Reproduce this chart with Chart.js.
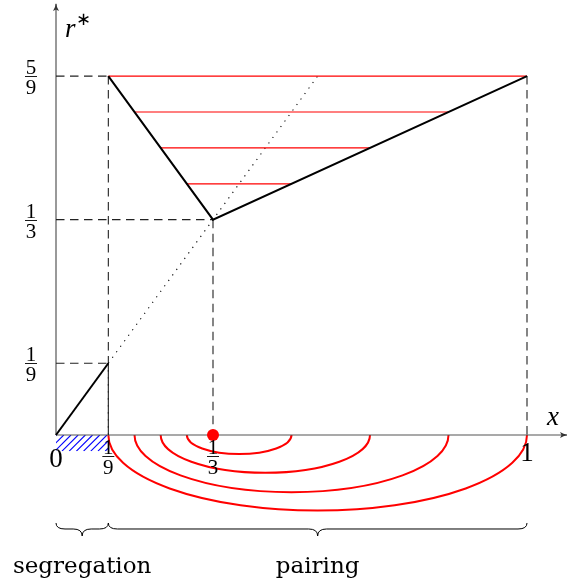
<!DOCTYPE html>
<html><head><meta charset="utf-8">
<script src="https://cdn.jsdelivr.net/npm/chart.js@4.4.0/dist/chart.umd.min.js"></script>
<style>html,body{margin:0;padding:0;background:#fff;overflow:hidden}#wrap{width:567px;height:584px;position:relative}</style>
</head><body><div id="wrap"><canvas id="c" width="567" height="584"></canvas></div>
<script>
// ---- data ----
const xTicks = [0, 1/9, 1/3, 1];
const xTickLabels = ['0', '1/9', '1/3', '1'];
const yTicks = [1/9, 1/3, 5/9];
const yTickLabels = ['1/9', '1/3', '5/9'];
const segregationPath = [[0, 0], [1/9, 1/9]];
const pairingPath = [[1/9, 5/9], [1/3, 1/3], [1, 5/9]];
const diagonalPath = [[1/9, 1/9], [5/9, 5/9]];
const guidePoints = [[1/9, 5/9], [1/3, 1/3], [1/9, 1/9], [1, 5/9]];
const guideHorizontal = [true, true, true, false];
const levels = [5/9, 1/2, 4/9, 7/18];
const levelLeft = [1/9, 1/6, 2/9, 5/18];
const levelRight = [1, 5/6, 2/3, 1/2];
const arcDepth = [0.117, 0.0885, 0.0585, 0.0295];
const fixedPoint = [1/3, 0];
const hatchRange = [0, 1/9];
const hatchDepth = 0.025;
const braceRanges = [[0, 1/9], [1/9, 1]];
const braceLabels = ['segregation', 'pairing'];
const braceLevel = -0.1455;
const xAxisEnd = 1.085;
const yAxisEnd = 0.667;

// ---- scale window ----
const XMIN = -56/471, XMAX = XMIN + 567/471;
const YMAX = 435/646, YMIN = YMAX - 584/646;

const pts = a => a.map(p => ({x: p[0], y: p[1]}));
const datasets = [];
// dashed guides
guidePoints.forEach((p, i) => {
  datasets.push({data: pts([[p[0], p[1]], [p[0], 0]]), borderColor: '#222', borderWidth: 1.1, borderDash: [8.5, 5.5], order: 10});
  if (guideHorizontal[i]) datasets.push({data: pts([[0, p[1]], [p[0], p[1]]]), borderColor: '#222', borderWidth: 1.1, borderDash: [8.5, 5.5], order: 10});
});
// dotted diagonal
datasets.push({data: pts(diagonalPath), borderColor: '#000', borderWidth: 1.1, borderDash: [1.2, 5.6], order: 9});
// red level lines
levels.forEach((v, i) => {
  datasets.push({data: pts([[levelLeft[i], v], [levelRight[i], v]]), borderColor: '#ff0000', borderWidth: 1.2, order: 8});
});
// black paths
datasets.push({data: pts(segregationPath), borderColor: '#000', borderWidth: 2, order: 5});
datasets.push({data: pts(pairingPath), borderColor: '#000', borderWidth: 2, order: 5, borderJoinStyle: 'miter'});
// fixed point
datasets.push({data: pts([fixedPoint]), showLine: false, pointRadius: 6, pointBackgroundColor: '#ff0000', pointBorderWidth: 0, order: 1});

const deco = {
  id: 'deco',
  beforeDatasetsDraw(chart) {
    const ctx = chart.ctx, X = chart.scales.x, Y = chart.scales.y;
    const px = v => X.getPixelForValue(v), py = v => Y.getPixelForValue(v);
    ctx.save();
    // hatch
    const hx0 = px(hatchRange[0]), hx1 = px(hatchRange[1]), hy0 = py(0), hy1 = py(-hatchDepth);
    ctx.save();
    ctx.beginPath(); ctx.rect(hx0, hy0, hx1 - hx0, hy1 - hy0); ctx.clip();
    ctx.strokeStyle = '#0000ff'; ctx.lineWidth = 1.1;
    for (let s = hx0 - 30; s < hx1 + 30; s += 7.2) {
      ctx.beginPath(); ctx.moveTo(s, hy1); ctx.lineTo(s + (hy1 - hy0), hy0); ctx.stroke();
    }
    ctx.restore();
    // red arcs
    ctx.strokeStyle = '#ff0000'; ctx.lineWidth = 2;
    levels.forEach((v, i) => {
      const a = px(levelLeft[i]), b = px(levelRight[i]);
      const ry = py(-arcDepth[i]) - py(0);
      ctx.beginPath();
      ctx.ellipse((a + b) / 2, py(0), (b - a) / 2, ry, 0, 0, Math.PI);
      ctx.stroke();
    });
    // axes
    ctx.strokeStyle = '#555'; ctx.fillStyle = '#333'; ctx.lineWidth = 1.2;
    ctx.beginPath(); ctx.moveTo(px(0), py(0)); ctx.lineTo(px(xAxisEnd), py(0)); ctx.stroke();
    ctx.beginPath(); ctx.moveTo(px(0), py(0)); ctx.lineTo(px(0), py(yAxisEnd)); ctx.stroke();
    // arrow heads
    const ax = px(0), ay = py(yAxisEnd) - 1;
    ctx.beginPath(); ctx.moveTo(ax, ay); ctx.quadraticCurveTo(ax + 0.5, ay + 4, ax + 3, ay + 8);
    ctx.lineTo(ax, ay + 6.5); ctx.lineTo(ax - 3, ay + 8); ctx.quadraticCurveTo(ax - 0.5, ay + 4, ax, ay); ctx.fill();
    const bx = px(xAxisEnd) + 1, by = py(0);
    ctx.beginPath(); ctx.moveTo(bx, by); ctx.quadraticCurveTo(bx - 4, by - 0.5, bx - 8, by - 3);
    ctx.lineTo(bx - 6.5, by); ctx.lineTo(bx - 8, by + 3); ctx.quadraticCurveTo(bx - 4, by + 0.5, bx, by); ctx.fill();
    ctx.restore();
  },
  afterDraw(chart) {
    const ctx = chart.ctx, X = chart.scales.x, Y = chart.scales.y;
    const px = v => X.getPixelForValue(v), py = v => Y.getPixelForValue(v);
    ctx.save();
    ctx.fillStyle = '#000'; ctx.strokeStyle = '#000';
    const frac = (txt, cx, barY, size) => {
      const [n, d] = txt.split('/');
      ctx.font = size + 'px "Liberation Serif"';
      ctx.textAlign = 'center'; ctx.textBaseline = 'alphabetic';
      ctx.fillText(n, cx, barY - 2);
      ctx.fillText(d, cx, barY + 17.5);
      ctx.lineWidth = 0.9;
      ctx.beginPath(); ctx.moveTo(cx - 6, barY + 0.5); ctx.lineTo(cx + 6, barY + 0.5); ctx.stroke();
    };
    // y ticks
    yTicks.forEach((v, i) => frac(yTickLabels[i], 31, Math.round(py(v)), 21));
    // x ticks
    xTicks.forEach((v, i) => {
      const t = xTickLabels[i];
      if (t.includes('/')) frac(t, px(v), Math.round(py(0)) + 21, 21);
      else {
        ctx.font = '27px "Liberation Serif"'; ctx.textAlign = 'center'; ctx.textBaseline = 'alphabetic';
        ctx.fillText(t, px(v), v === 0 ? py(0) + 32 : py(0) + 26);
      }
    });
    // axis labels
    ctx.font = 'italic 27px "Liberation Serif"'; ctx.textAlign = 'left';
    ctx.fillText('r', 65, 37);
    ctx.font = '18px "DejaVu Sans"'; ctx.fillText('∗', 76, 25);
    ctx.font = 'italic 27px "Liberation Serif"';
    ctx.fillText('x', 547, 425);
    // braces
    ctx.lineWidth = 1;
    braceRanges.forEach((r, i) => {
      const x0 = px(r[0]), x1 = px(r[1]), yl = py(braceLevel), m = (x0 + x1) / 2;
      const tip = yl - 6, peak = yl + 7, rr = 9;
      ctx.beginPath();
      ctx.moveTo(x0, tip);
      ctx.quadraticCurveTo(x0, yl, x0 + rr, yl);
      ctx.lineTo(m - rr, yl);
      ctx.quadraticCurveTo(m, yl, m, peak);
      ctx.quadraticCurveTo(m, yl, m + rr, yl);
      ctx.lineTo(x1 - rr, yl);
      ctx.quadraticCurveTo(x1, yl, x1, tip);
      ctx.stroke();
      ctx.font = '23px "DejaVu Serif"'; ctx.textAlign = 'center'; ctx.textBaseline = 'alphabetic';
      ctx.fillText(braceLabels[i], m, 573);
    });
    ctx.restore();
  }
};

new Chart(document.getElementById('c'), {
  type: 'scatter',
  data: {datasets: datasets.map(d => Object.assign({showLine: true, pointRadius: 0, fill: false}, d))},
  options: {
    responsive: false, animation: false, devicePixelRatio: 1,
    layout: {padding: 0, autoPadding: false},
    plugins: {legend: {display: false}, tooltip: {enabled: false}},
    scales: {
      x: {type: 'linear', min: XMIN, max: XMAX, display: false},
      y: {type: 'linear', min: YMIN, max: YMAX, display: false}
    }
  },
  plugins: [deco]
});
</script>
</body></html>
